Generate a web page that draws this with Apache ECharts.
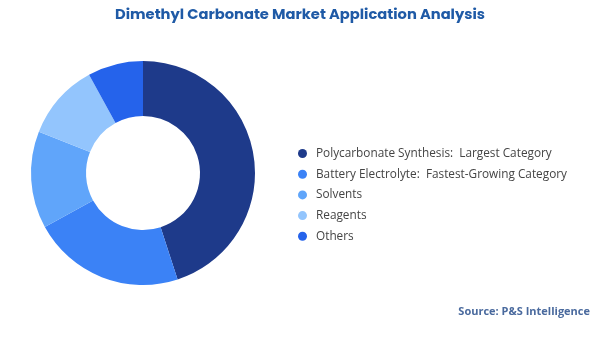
<!DOCTYPE html>
<html><head><meta charset="utf-8">
<script src="https://cdn.jsdelivr.net/npm/echarts@6/dist/echarts.min.js"></script>
<style>html,body{margin:0;padding:0;background:#fff}#c{width:600px;height:337px}</style>
</head><body><div id="c"></div>
<script>
const categories = ["Polycarbonate Synthesis:  Largest Category","Battery Electrolyte:  Fastest-Growing Category","Solvents","Reagents","Others"];
const values = [45, 22, 14, 11, 8];
const colors = ["#1e3a8a","#3b82f6","#60a5fa","#93c5fd","#2563eb"];
const chart = echarts.init(document.getElementById('c'));
chart.setOption({
  animation:false,
  title:{text:"Dimethyl Carbonate Market Application Analysis",left:'center',top:3,
    textStyle:{fontFamily:'Poppins, "Open Sans", sans-serif',fontSize:14.7,fontWeight:'bold',color:'#1f5aa6'}},
  graphic:[{type:'text',right:10,top:306,style:{text:'Source: P&S Intelligence',fontFamily:'"Open Sans", sans-serif',fontSize:11,fontWeight:'bold',fill:'#4a6a9e'}}],
  legend:{orient:'vertical',left:293,top:142,icon:'circle',itemWidth:9,itemHeight:9,itemGap:7.7,
    textStyle:{fontFamily:'"Open Sans", sans-serif',fontSize:11.8,lineHeight:13,color:'#444',padding:[0,0,0,4]},
    data:categories},
  series:[{type:'pie',center:[143,173],radius:[57,112],startAngle:90,clockwise:true,
    label:{show:false},labelLine:{show:false},
    data:categories.map((n,i)=>({name:n,value:values[i],itemStyle:{color:colors[i]}}))}]
});
</script></body></html>
